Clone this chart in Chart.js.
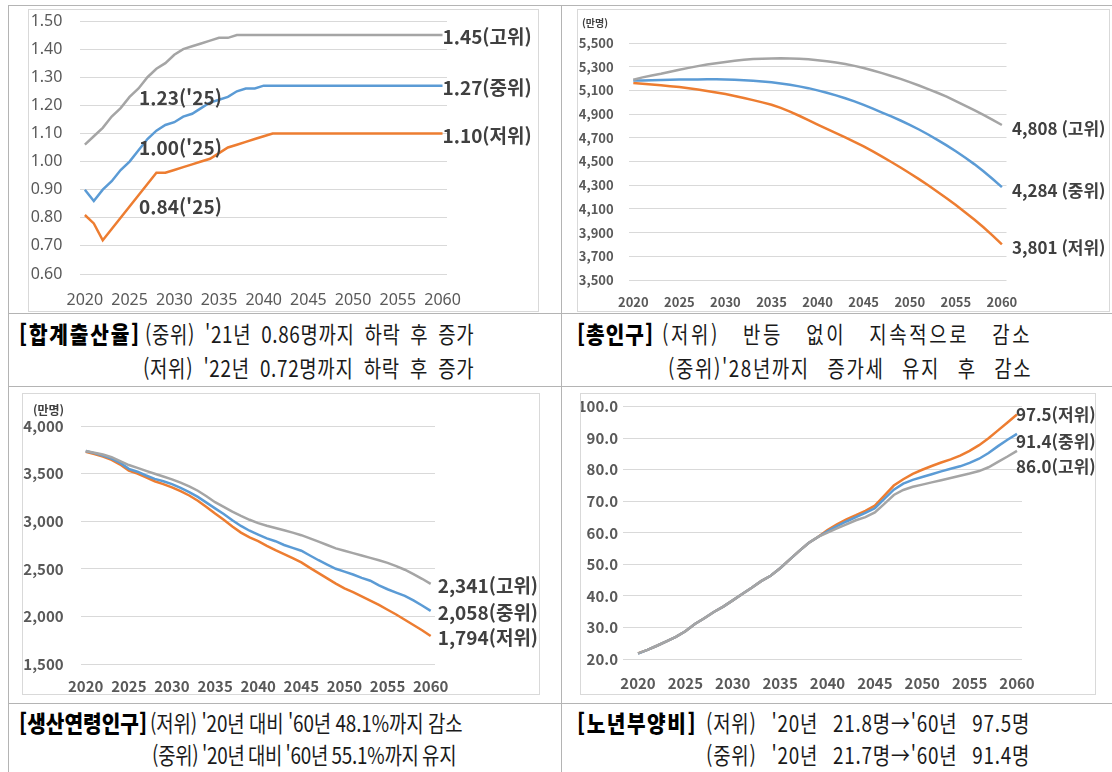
<!DOCTYPE html>
<html lang="ko">
<head>
<meta charset="utf-8">
<script src="https://cdn.jsdelivr.net/npm/chart.js@4.4.1/dist/chart.umd.min.js"></script>
<style>
  html, body { margin: 0; padding: 0; background: #fff; }
  body { width: 1112px; height: 772px; overflow: hidden; position: relative; font-family: "Noto Sans CJK KR", sans-serif; }
  .hl { position: absolute; height: 0; border-top: 1px solid #b4b4b4; }
  .vl { position: absolute; width: 0; border-left: 1px solid #b4b4b4; }
  .frame { position: absolute; border: 1px solid #d9d9d9; box-sizing: border-box; pointer-events: none; }
  canvas { position: absolute; }
  .cap { position: absolute; white-space: pre; transform-origin: 0 50%; height: 28px; line-height: 28px; color: #1a1a1a; font-size: 23px; font-weight: 400; }
  .cap.t { font-weight: 900; color: #000; }
</style>
</head>
<body>
<script>
// ---- data -------------------------------------------------------------
const years = [2020,2021,2022,2023,2024,2025,2026,2027,2028,2029,
               2030,2031,2032,2033,2034,2035,2036,2037,2038,2039,
               2040,2041,2042,2043,2044,2045,2046,2047,2048,2049,
               2050,2051,2052,2053,2054,2055,2056,2057,2058,2059,2060];
const tickYears = [2020,2025,2030,2035,2040,2045,2050,2055,2060];

// 합계출산율 (명)
const tfrTicks = [0.6,0.7,0.8,0.9,1.0,1.1,1.2,1.3,1.4,1.5];
const tfrHigh = [1.06,1.09,1.12,1.16,1.19,1.23,1.26,1.30,1.33,1.35,
                 1.38,1.40,1.41,1.42,1.43,1.44,1.44,1.45,1.45,1.45,
                 1.45,1.45,1.45,1.45,1.45,1.45,1.45,1.45,1.45,1.45,
                 1.45,1.45,1.45,1.45,1.45,1.45,1.45,1.45,1.45,1.45,1.45];
const tfrMid  = [0.90,0.86,0.90,0.93,0.97,1.00,1.04,1.08,1.11,1.13,
                 1.14,1.16,1.17,1.19,1.21,1.22,1.23,1.25,1.26,1.26,
                 1.27,1.27,1.27,1.27,1.27,1.27,1.27,1.27,1.27,1.27,
                 1.27,1.27,1.27,1.27,1.27,1.27,1.27,1.27,1.27,1.27,1.27];
const tfrLow  = [0.81,0.78,0.72,0.76,0.80,0.84,0.88,0.92,0.96,0.96,
                 0.97,0.98,0.99,1.00,1.01,1.03,1.05,1.06,1.07,1.08,
                 1.09,1.10,1.10,1.10,1.10,1.10,1.10,1.10,1.10,1.10,
                 1.10,1.10,1.10,1.10,1.10,1.10,1.10,1.10,1.10,1.10,1.10];

// 총인구 (만명)
const popTicks = [3500,3700,3900,4100,4300,4500,4700,4900,5100,5300,5500];
const popHigh = [5190,5210,5225,5240,5258,5275,5290,5305,5318,5330,
                 5340,5350,5358,5364,5368,5370,5371,5370,5367,5362,
                 5355,5346,5335,5322,5307,5289,5268,5246,5222,5197,
                 5170,5141,5111,5080,5048,5010,4972,4933,4893,4851,4808];
const popMid  = [5184,5183,5185,5187,5189,5191,5192,5193,5194,5194,
                 5193,5190,5186,5181,5175,5168,5158,5147,5134,5119,
                 5100,5080,5058,5034,5008,4978,4946,4913,4880,4846,
                 4810,4770,4728,4683,4636,4586,4533,4478,4418,4352,4284];
const popLow  = [5163,5157,5150,5143,5136,5128,5118,5107,5095,5082,
                 5069,5053,5036,5018,4999,4979,4952,4921,4886,4849,
                 4812,4776,4740,4703,4665,4627,4585,4541,4496,4449,
                 4401,4351,4299,4245,4189,4132,4072,4010,3945,3875,3801];

// 생산연령인구 (만명)
const wapTicks = [1500,2000,2500,3000,3500,4000];
const wapHigh = [3738,3720,3700,3672,3632,3590,3560,3528,3498,3470,
                 3440,3405,3365,3320,3262,3200,3150,3100,3055,3015,
                 2980,2952,2928,2905,2880,2853,2820,2785,2750,2715,
                 2690,2665,2640,2615,2590,2562,2528,2490,2445,2395,2341];
const wapMid  = [3738,3715,3690,3658,3612,3550,3520,3480,3445,3420,
                 3390,3350,3305,3255,3195,3135,3075,3010,2950,2900,
                 2860,2820,2790,2750,2720,2690,2640,2590,2545,2500,
                 2470,2440,2405,2375,2325,2285,2250,2215,2168,2115,2058];
const wapLow  = [3730,3705,3680,3645,3595,3530,3500,3460,3420,3390,
                 3355,3315,3270,3215,3150,3080,3015,2945,2880,2830,
                 2790,2740,2695,2655,2612,2568,2510,2455,2400,2345,
                 2295,2255,2210,2165,2120,2070,2020,1965,1910,1855,1794];

// 노년부양비 (생산연령인구 100명당)
const oadTicks = [20,30,40,50,60,70,80,90,100];
const oadHigh = [21.8,22.9,24.2,25.6,27.0,28.8,31.1,32.9,34.9,36.6,
                 38.6,40.6,42.6,44.7,46.4,48.8,51.5,54.2,56.8,58.7,
                 60.1,61.4,62.7,64.0,65.0,66.5,69.2,72.0,73.6,74.6,
                 75.3,76.0,76.7,77.4,78.1,78.8,79.6,80.8,82.5,84.2,86.0];
const oadMid  = [21.7,22.9,24.2,25.6,27.0,28.8,31.1,32.9,34.9,36.6,
                 38.6,40.6,42.6,44.7,46.4,48.8,51.5,54.2,56.8,58.7,
                 60.5,62.1,63.6,65.0,66.3,67.8,70.8,73.7,75.6,76.8,
                 77.7,78.6,79.5,80.3,81.1,82.2,83.5,85.3,87.5,89.5,91.4];
const oadLow  = [21.8,22.9,24.2,25.6,27.0,28.8,31.1,32.9,34.9,36.6,
                 38.6,40.6,42.6,44.7,46.4,48.8,51.5,54.2,56.8,58.7,
                 60.9,62.7,64.3,65.6,67.0,68.6,71.8,75.0,77.0,78.7,
                 80.0,81.2,82.3,83.3,84.5,86.0,87.8,90.0,92.5,95.0,97.5];

const scenarioNames = ['고위', '중위', '저위'];
const COLORS = { high: '#A5A5A5', mid: '#5B9BD5', low: '#ED7D31' };

// ---- page furniture: table rules and caption cells --------------------
function addDiv(cls, css) {
  const d = document.createElement('div');
  d.className = cls;
  Object.assign(d.style, css);
  document.body.appendChild(d);
  return d;
}
[5, 313, 386, 703].forEach(y => addDiv('hl', { left: '8px', top: y + 'px', width: '1104px' }));
[8, 561].forEach(x => addDiv('vl', { left: x + 'px', top: '5px', height: '767px' }));

const captions = [
  { t: true,  text: '[합계출산율]', x0: 19,  x1: 141,  y: 333 },
  { t: false, text: "(중위) '21년 0.86명까지 하락 후 증가", x0: 145, x1: 469, y: 333 },
  { t: false, text: "(저위) '22년 0.72명까지 하락 후 증가", x0: 143, x1: 469, y: 367 },
  { t: true,  text: '[총인구]', x0: 577, x1: 654, y: 333 },
  { t: false, text: '(저위) 반등 없이 지속적으로 감소', x0: 662, x1: 1028, y: 333 },
  { t: false, text: "(중위)'28년까지 증가세 유지 후 감소", x0: 668, x1: 1028, y: 367 },
  { t: true,  text: '[생산연령인구]', x0: 19, x1: 147, y: 722 },
  { t: false, text: "(저위) '20년 대비 '60년 48.1%까지 감소", x0: 150, x1: 457, y: 722 },
  { t: false, text: "(중위) '20년 대비 '60년 55.1%까지 유지", x0: 152, x1: 451, y: 754 },
  { t: true,  text: '[노년부양비]', x0: 577, x1: 697, y: 722 },
  { t: false, text: "(저위) '20년 21.8명→'60년 97.5명", x0: 706, x1: 1027, y: 722 },
  { t: false, text: "(중위) '20년 21.7명→'60년 91.4명", x0: 706, x1: 1027, y: 754 }
];
const measureCtx = document.createElement('canvas').getContext('2d');
captions.forEach(c => {
  const el = addDiv('cap' + (c.t ? ' t' : ''), { left: c.x0 + 'px', top: (c.y - 14) + 'px' });
  el.textContent = c.text;
  const k = c.t ? 0.88 : 0.82;                // narrow the glyphs
  measureCtx.font = (c.t ? '900 ' : '400 ') + '23px "Noto Sans CJK KR"';
  const natural = measureCtx.measureText(c.text).width;
  const chars = [...c.text].length;
  const spaces = (c.text.match(/ /g) || []).length;
  const extra = (c.x1 - c.x0) / k - natural;
  // spread the leftover width partly between letters, partly between words
  const ls = spaces ? extra * 0.45 / chars : extra / chars;
  const ws = spaces ? extra * 0.55 / spaces : 0;
  el.style.letterSpacing = ls.toFixed(2) + 'px';
  el.style.wordSpacing = ws.toFixed(2) + 'px';
  el.style.transform = 'scaleX(' + k + ')';
});

// ---- charts -----------------------------------------------------------
const valueLabels = {
  id: 'valueLabels',
  afterDatasetsDraw(chart, args, opts) {
    const { ctx, scales: { x, y } } = chart;
    ctx.save();
    ctx.fillStyle = '#404040';
    ctx.textBaseline = 'middle';
    ctx.textAlign = 'left';
    (opts.items || []).forEach(it => {
      const v = chart.data.datasets[it.s].data[years.indexOf(it.year)].y;
      ctx.font = 'bold ' + it.size + 'px "Noto Sans CJK KR"';
      ctx.fillText(opts.fmt(v) + it.suffix, x.getPixelForValue(it.year) + it.dx, y.getPixelForValue(v) + it.dy);
    });
    if (opts.unit) {
      ctx.font = 'bold ' + opts.unit.size + 'px "Noto Sans CJK KR"';
      ctx.fillText(opts.unit.text, opts.unit.x, opts.unit.y);
    }
    ctx.restore();
  }
};

function panel(o) {
  const cv = document.createElement('canvas');
  cv.width = o.w; cv.height = o.h;
  cv.style.left = o.x + 'px'; cv.style.top = o.y + 'px';
  document.body.appendChild(cv);
  addDiv('frame', { left: o.x + 'px', top: o.y + 'px', width: o.w + 'px', height: o.h + 'px' });

  const series = [
    { name: scenarioNames[0], values: o.high, color: COLORS.high },
    { name: scenarioNames[1], values: o.mid,  color: COLORS.mid },
    { name: scenarioNames[2], values: o.low,  color: COLORS.low }
  ];
  const yTicks = o.yTicks;
  new Chart(cv, {
    type: 'line',
    data: {
      datasets: series.map(s => ({
        label: s.name,
        data: years.map((yr, i) => ({ x: yr, y: s.values[i] })),
        borderColor: s.color,
        borderWidth: 2.5,
        pointRadius: 0,
        tension: 0,
        fill: false
      }))
    },
    options: {
      responsive: false,
      animation: false,
      events: [],
      layout: { padding: { left: 0, top: o.padTop, right: o.padRight, bottom: 0 } },
      plugins: {
        legend: { display: false },
        tooltip: { enabled: false },
        valueLabels: { items: o.labels, fmt: o.labelFmt, unit: o.unit }
      },
      scales: {
        x: {
          type: 'linear', min: o.xMin, max: o.xMax, bounds: 'data',
          afterBuildTicks(s) { s.ticks = tickYears.map(v => ({ value: v })); },
          afterFit(s) { s.height = o.xH; s.paddingLeft = 0; s.paddingRight = 0; },
          grid: { display: false, drawTicks: false },
          border: { display: false },
          ticks: { autoSkip: false, maxRotation: 0, padding: o.xPad, color: '#595959',
                   font: o.tickFont, callback: v => String(v) }
        },
        y: {
          type: 'linear',
          min: yTicks[0], max: yTicks[yTicks.length - 1], bounds: 'data',
          afterBuildTicks(s) { s.ticks = yTicks.map(v => ({ value: v })); },
          afterFit(s) { s.width = o.yW; s.paddingTop = 0; s.paddingBottom = 0; },
          grid: { color: '#d9d9d9', lineWidth: 1, drawTicks: false },
          border: { display: false },
          ticks: { autoSkip: false, padding: o.yPad, color: '#595959',
                   font: o.tickFont, callback: o.yFmt }
        }
      }
    },
    plugins: [valueLabels]
  });
}

const comma = v => Math.round(v).toLocaleString('en-US');

// 합계출산율
panel({
  x: 28, y: 9, w: 511, h: 303,
  padTop: 12, padRight: 92, yW: 52.4, xH: 38, yPad: 18, xPad: 16.4,
  xMin: 2019.5, xMax: 2060.5, yTicks: tfrTicks,
  yFmt: v => v.toFixed(2),
  tickFont: { family: '"Noto Sans", sans-serif', size: 16, weight: 'normal' },
  high: tfrHigh, mid: tfrMid, low: tfrLow,
  labelFmt: v => v.toFixed(2),
  labels: [
    { s: 0, year: 2060, suffix: '(고위)', dx: 0, dy: 2, size: 19 },
    { s: 1, year: 2060, suffix: '(중위)', dx: 0, dy: 2, size: 19 },
    { s: 2, year: 2060, suffix: '(저위)', dx: 0, dy: 2, size: 19 },
    { s: 0, year: 2025, suffix: "('25)", dx: 9.5, dy: 1, size: 19 },
    { s: 1, year: 2025, suffix: "('25)", dx: 9.5, dy: -14, size: 19 },
    { s: 2, year: 2025, suffix: "('25)", dx: 9.5, dy: 0, size: 19 }
  ]
});

// 총인구
panel({
  x: 577, y: 9, w: 533, h: 303,
  padTop: 34, padRight: 103.5, yW: 51.7, xH: 32, yPad: 15, xPad: 14.2,
  xMin: 2019.5, xMax: 2060.5, yTicks: popTicks,
  yFmt: comma,
  tickFont: { family: '"Noto Sans CJK KR", sans-serif', size: 13, weight: 'bold' },
  high: popHigh, mid: popMid, low: popLow,
  labelFmt: comma,
  unit: { text: '(만명)', x: 5, y: 14, size: 10 },
  labels: [
    { s: 0, year: 2060, suffix: ' (고위)', dx: 10, dy: 3.5, size: 17 },
    { s: 1, year: 2060, suffix: ' (중위)', dx: 10, dy: 3.5, size: 17 },
    { s: 2, year: 2060, suffix: ' (저위)', dx: 10, dy: 3.5, size: 17 }
  ]
});

// 생산연령인구
panel({
  x: 22, y: 393, w: 518, h: 302,
  padTop: 33, padRight: 105, yW: 59.4, xH: 31, yPad: 17.8, xPad: 13,
  xMin: 2019.5, xMax: 2060.5, yTicks: wapTicks,
  yFmt: comma,
  tickFont: { family: '"Noto Sans CJK KR", sans-serif', size: 15, weight: 'bold' },
  high: wapHigh, mid: wapMid, low: wapLow,
  labelFmt: comma,
  unit: { text: '(만명)', x: 11, y: 17, size: 12 },
  labels: [
    { s: 0, year: 2060, suffix: '(고위)', dx: 7, dy: 2, size: 19 },
    { s: 1, year: 2060, suffix: '(중위)', dx: 7, dy: 2, size: 19 },
    { s: 2, year: 2060, suffix: '(저위)', dx: 7, dy: 2, size: 19 }
  ]
});

// 노년부양비
panel({
  x: 580, y: 393, w: 516, h: 302,
  padTop: 13.7, padRight: 74, yW: 43.4, xH: 36, yPad: 5.4, xPad: 15,
  xMin: 2018.46, xMax: 2060.53, yTicks: oadTicks,
  yFmt: v => v.toFixed(1),
  tickFont: { family: '"Noto Sans CJK KR", sans-serif', size: 15, weight: 'bold' },
  high: oadHigh, mid: oadMid, low: oadLow,
  labelFmt: v => v.toFixed(1),
  labels: [
    { s: 2, year: 2060, suffix: '(저위)', dx: -1, dy: 0, size: 17 },
    { s: 1, year: 2060, suffix: '(중위)', dx: -1, dy: 8, size: 17 },
    { s: 0, year: 2060, suffix: '(고위)', dx: -1, dy: 16, size: 17 }
  ]
});
</script>
</body>
</html>
